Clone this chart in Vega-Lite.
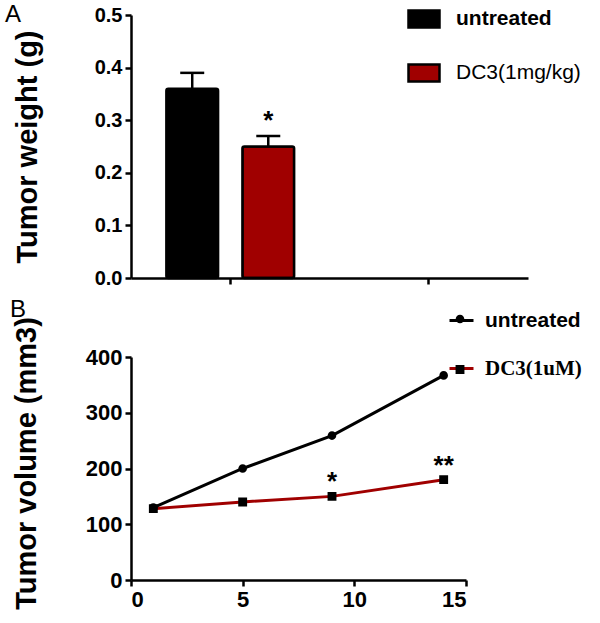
{
  "$schema": "https://vega.github.io/schema/vega-lite/v6.json",
  "background": "white",
  "padding": {"left": 5, "top": 2, "right": 5, "bottom": 0},
  "bounds": "flush",
  "spacing": 79,
  "config": {
    "font": "Liberation Sans",
    "view": {"stroke": null},
    "axis": {
      "domainColor": "black", "domainWidth": 2.5, "tickColor": "black", "tickWidth": 2.5, "tickSize": 6,
      "labelFont": "Liberation Sans", "labelFontWeight": "bold", "labelColor": "black", "labelPadding": 3,
      "titleFont": "Liberation Sans", "titleFontWeight": "bold", "titleColor": "black", "grid": false
    },
    "legend": {"padding": 0, "titleFontSize": 0},
    "title": {"font": "Liberation Sans", "fontWeight": "normal", "fontSize": 24, "color": "black"}
  },
  "vconcat": [
    {
      "width": 397,
      "height": 263,
      "title": {"text": "A", "anchor": "start", "frame": "group", "dx": -126, "offset": -25},
      "data": {"values": [
        {"group": "g1", "treatment": "untreated", "weight": 0.36, "upper": 0.39, "sig": ""},
        {"group": "g1", "treatment": "DC3(1mg/kg)", "weight": 0.25, "upper": 0.27, "sig": "*"}
      ]},
      "encoding": {
        "x": {"field": "group", "type": "nominal", "scale": {"domain": ["g1", "g2"], "paddingInner": 0, "paddingOuter": 0},
              "axis": {"labels": false, "title": null}},
        "xOffset": {"field": "treatment", "type": "nominal", "scale": {"domain": ["untreated", "DC3(1mg/kg)"], "paddingInner": 0.32, "paddingOuter": 0.465}}
      },
      "layer": [
        {"mark": {"type": "rule", "strokeWidth": 2.5, "color": "black"},
         "encoding": {"y": {"field": "weight", "type": "quantitative", "title": "Tumor weight (g)"}, "y2": {"field": "upper"}}},
        {"mark": {"type": "tick", "thickness": 2.5, "size": 24, "color": "black", "opacity": 1},
         "encoding": {"y": {"field": "upper", "type": "quantitative", "title": "Tumor weight (g)"}}},
        {"mark": {"type": "bar", "stroke": "black", "strokeWidth": 2.5, "cornerRadius": 2, "opacity": 1},
         "encoding": {
           "y": {"field": "weight", "type": "quantitative", "title": "Tumor weight (g)",
                 "scale": {"domain": [0, 0.5], "nice": false},
                 "axis": {"values": [0, 0.1, 0.2, 0.3, 0.4, 0.5], "format": ".1f", "labelFontSize": 20, "titleFontSize": 29, "titlePadding": 52}},
           "fill": {"field": "treatment", "type": "nominal",
                    "scale": {"domain": ["untreated", "DC3(1mg/kg)"], "range": ["black", "#a00000"]},
                    "legend": {"orient": "none", "legendX": 276, "legendY": -13, "title": null,
                               "symbolType": "M-1,-0.55L1,-0.55L1,0.55L-1,0.55Z", "symbolSize": 961,
                               "symbolStrokeColor": "black", "symbolStrokeWidth": 2.5,
                               "labelFontSize": 21, "labelColor": "black", "labelOffset": 15, "rowPadding": 23,
                               "labelFontWeight": {"expr": "(datum.label == 'untreated' || datum.value == 'untreated' || datum.index == 0) ? 'bold' : 'normal'"}}}
         }},
        {"mark": {"type": "text", "fontSize": 26, "fontWeight": "bold", "dy": -15, "color": "black"},
         "encoding": {"y": {"field": "upper", "type": "quantitative", "title": "Tumor weight (g)"}, "text": {"field": "sig"}}}
      ]
    },
    {
      "width": 335,
      "height": 223,
      "title": {"text": "B", "anchor": "start", "frame": "group", "dx": -121, "offset": -15},
      "data": {"values": [
        {"day": 1, "volume": 130, "series": "untreated", "sig": ""},
        {"day": 5, "volume": 200, "series": "untreated", "sig": ""},
        {"day": 9, "volume": 259, "series": "untreated", "sig": ""},
        {"day": 14, "volume": 367, "series": "untreated", "sig": ""},
        {"day": 1, "volume": 128, "series": "DC3(1uM)", "sig": ""},
        {"day": 5, "volume": 140, "series": "DC3(1uM)", "sig": ""},
        {"day": 9, "volume": 150, "series": "DC3(1uM)", "sig": "*"},
        {"day": 14, "volume": 180, "series": "DC3(1uM)", "sig": "**"}
      ]},
      "encoding": {
        "x": {"field": "day", "type": "quantitative", "scale": {"domain": [0, 15], "nice": false},
              "axis": {"values": [0, 5, 10, 15], "title": null, "labelFontSize": 22}},
        "y": {"field": "volume", "type": "quantitative", "scale": {"domain": [0, 400], "nice": false},
              "axis": {"values": [0, 100, 200, 300, 400], "title": "Tumor volume (mm3)", "labelFontSize": 22, "titleFontSize": 29, "titlePadding": 44, "titleY": 106}}
      },
      "layer": [
        {"mark": {"type": "line", "strokeWidth": 3},
         "encoding": {"color": {"field": "series", "type": "nominal",
                                "scale": {"domain": ["untreated", "DC3(1uM)"], "range": ["black", "#a00000"]},
                                "legend": {"orient": "none", "legendX": 317, "legendY": -50, "title": null,
                                           "symbolType": "M-1,0L1,0", "symbolSize": 576, "symbolStrokeWidth": 3,
                                           "labelFontSize": 21, "labelColor": "black", "labelOffset": 10, "rowPadding": 24,
                                           "labelFontWeight": "bold",
                                           "labelFont": {"expr": "(datum.label == 'untreated' || datum.value == 'untreated' || datum.index == 0) ? 'Liberation Sans' : 'Liberation Serif'"}}}}},
        {"mark": {"type": "point", "filled": true, "color": "black", "opacity": 1, "size": 576, "strokeWidth": 0},
         "encoding": {"shape": {"field": "series", "type": "nominal",
                                "scale": {"domain": ["untreated", "DC3(1uM)", "none"],
                                          "range": ["M-1,0L1,0M0.36,0A0.36,0.36 0 1,1 -0.36,0A0.36,0.36 0 1,1 0.36,0Z",
                                                    "M-1,0L1,0M-0.37,-0.37L0.37,-0.37L0.37,0.37L-0.37,0.37Z",
                                                    "M-1,0L1,0"]},
                                "legend": {"orient": "none", "legendX": 317, "legendY": -50, "title": null,
                                           "values": ["untreated", "DC3(1uM)"],
                                           "symbolSize": 576, "symbolStrokeWidth": 0, "symbolFillColor": "black", "symbolStrokeColor": "transparent",
                                           "labelFontSize": 21, "labelOpacity": 0, "labelExpr": "' '", "labelOffset": 10, "rowPadding": 28.5, "labelFontWeight": "bold"}}}},
        {"mark": {"type": "text", "fontSize": 26, "fontWeight": "bold", "dy": -14, "color": "black"},
         "encoding": {"text": {"field": "sig"}}}
      ]
    }
  ],
  "resolve": {"scale": {"color": "independent", "fill": "independent", "shape": "independent"}, "legend": {"color": "independent", "fill": "independent", "shape": "independent"}}
}
